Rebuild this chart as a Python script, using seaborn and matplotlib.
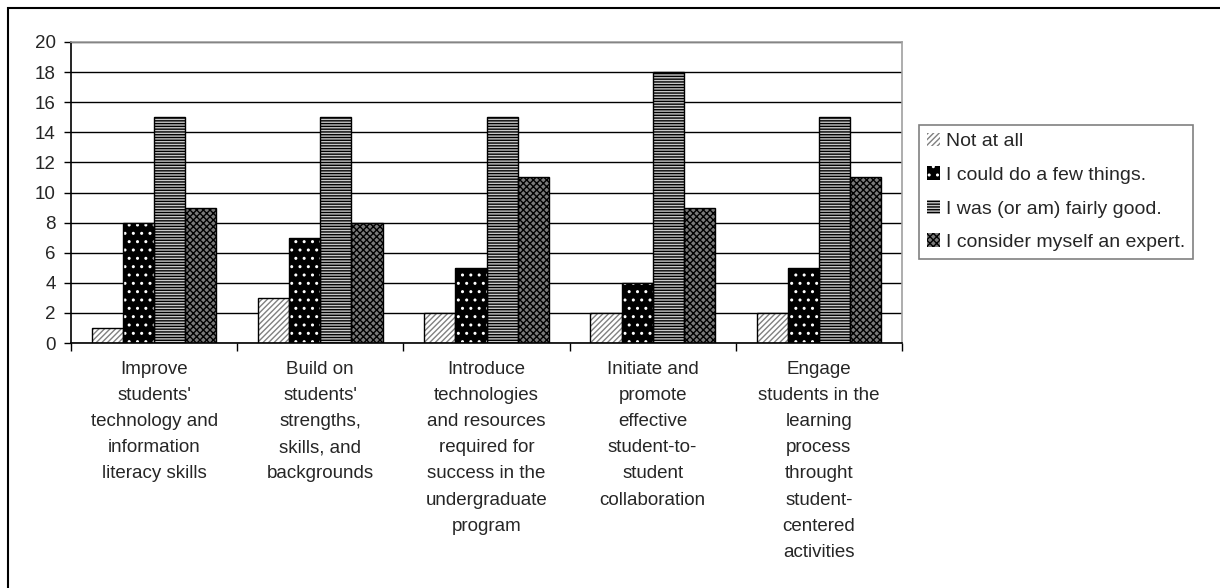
import matplotlib
matplotlib.use("Agg")
import matplotlib.pyplot as plt
import matplotlib.patches as mpatches
import seaborn as sns
import pandas as pd

categories = [
    "Improve\nstudents'\ntechnology and\ninformation\nliteracy skills",
    "Build on\nstudents'\nstrengths,\nskills, and\nbackgrounds",
    "Introduce\ntechnologies\nand resources\nrequired for\nsuccess in the\nundergraduate\nprogram",
    "Initiate and\npromote\neffective\nstudent-to-\nstudent\ncollaboration",
    "Engage\nstudents in the\nlearning\nprocess\nthrought\nstudent-\ncentered\nactivities",
]
series = ["Not at all", "I could do a few things.", "I was (or am) fairly good.",
          "I consider myself an expert."]
not_at_all = [1, 3, 2, 2, 2]
few_things = [8, 7, 5, 4, 5]
fairly_good = [15, 15, 15, 18, 15]
expert = [9, 8, 11, 9, 11]
y_ticks = [0, 2, 4, 6, 8, 10, 12, 14, 16, 18, 20]

sns.set_theme(style="white")
plt.rcParams['font.family'] = ['Liberation Sans', 'DejaVu Sans']
plt.rcParams['hatch.linewidth'] = 1.0

rows = []
for s, vals in zip(series, [not_at_all, few_things, fairly_good, expert]):
    for c, v in zip(categories, vals):
        rows.append({"category": c, "series": s, "value": v})
df = pd.DataFrame(rows)

faces = ["white", "black", "#c8c8c8", "#7a7a7a"]
hatch_colors = ["#808080", "white", "black", "black"]
hatches = ["//////", "..", "------", "xxxxx"]

fig = plt.figure(figsize=(12.2, 5.88), dpi=100)
ax = fig.add_axes([71 / 1220, 1 - 343 / 588, (902 - 71) / 1220, (343 - 42) / 588])

sns.barplot(data=df, x="category", y="value", hue="series", hue_order=series,
            order=categories, palette=faces, width=0.75, legend=False, ax=ax,
            saturation=1, errorbar=None)

for i, cont in enumerate(ax.containers):
    for p in cont.patches:
        p.set_facecolor(faces[i])
        p.set_hatch(hatches[i])
        p.set_edgecolor(hatch_colors[i])
        p.set_linewidth(0)
        outline = mpatches.Rectangle(p.get_xy(), p.get_width(), p.get_height(),
                                     fill=False, edgecolor="black", linewidth=1.0, zorder=3)
        ax.add_patch(outline)

ax.set_ylim(0, 20)
ax.set_xlim(-0.5, len(categories) - 0.5)
ax.set_yticks(y_ticks)
ax.set_yticklabels([str(t) for t in y_ticks], fontsize=13.5)
ax.yaxis.grid(True, color="black", linewidth=1.0)
ax.set_axisbelow(True)
ax.tick_params(axis="y", left=True, length=5, width=1, color="black", pad=6)

ax.set_xticks(range(len(categories)))
ax.set_xticklabels(categories, fontsize=13.5, linespacing=1.7, va="top")
ax.tick_params(axis="x", bottom=False, pad=7)
ax.set_xticks([x - 0.5 for x in range(len(categories) + 1)], minor=True)
ax.tick_params(axis="x", which="minor", bottom=True, length=6, width=1, color="black")
ax.set_xlabel("")
ax.set_ylabel("")

for side in ["left", "bottom"]:
    ax.spines[side].set_color("black")
    ax.spines[side].set_linewidth(1.2)
for side in ["top", "right"]:
    ax.spines[side].set_color("#a0a0a0")
    ax.spines[side].set_linewidth(1.2)

handles = [mpatches.Patch(facecolor=faces[i], hatch=hatches[i], edgecolor=hatch_colors[i],
                          linewidth=0) for i in range(len(series))]
leg = fig.legend(handles, series, loc="upper left",
                 bbox_to_anchor=(919 / 1220, 1 - 125 / 588), fontsize=14,
                 frameon=True, fancybox=False, edgecolor="#606060",
                 handlelength=0.7, handleheight=0.7, handletextpad=0.3,
                 labelspacing=0.82, borderpad=0.4, borderaxespad=0)
leg.get_frame().set_linewidth(1.2)

border = mpatches.Rectangle((8 / 1220, -0.05), 1.2, 1.05 - 8 / 588, transform=fig.transFigure,
                            fill=False, edgecolor="black", linewidth=1.5, clip_on=False)
fig.patches.append(border)

fig.savefig("out.png", dpi=100)
